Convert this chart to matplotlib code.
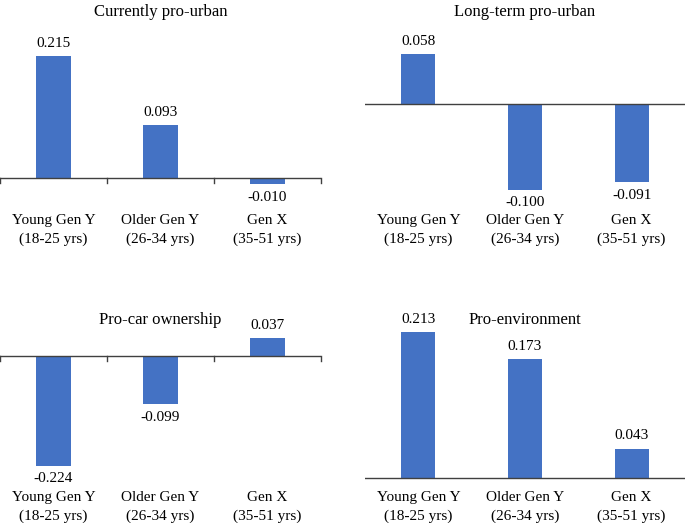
import matplotlib
matplotlib.use("Agg")
import matplotlib.pyplot as plt
from matplotlib.transforms import blended_transform_factory

plt.rcParams['font.family'] = ['Liberation Serif', 'DejaVu Serif']

categories = ["Young Gen Y\n(18-25 yrs)", "Older Gen Y\n(26-34 yrs)", "Gen X\n(35-51 yrs)"]
titles = ["Currently pro-urban", "Long-term pro-urban", "Pro-car ownership", "Pro-environment"]
currently_pro_urban = [0.215, 0.093, -0.010]
long_term_pro_urban = [0.058, -0.100, -0.091]
pro_car_ownership = [-0.224, -0.099, 0.037]
pro_environment = [0.213, 0.173, 0.043]
series = [currently_pro_urban, long_term_pro_urban, pro_car_ownership, pro_environment]

W, H = 685, 523
fig = plt.figure(figsize=(W / 100, H / 100), dpi=100)

# panel layout in pixels: x0, x1, zero line y, px per unit, band top, band bottom, title y, label y, ticks
panels = [
    (0, 321, 178, 567, 30, 260, 12, 230, True),
    (365, 685, 104, 855, 30, 260, 12, 230, False),
    (0, 321, 356, 489, 330, 523, 320, 507, True),
    (365, 685, 478, 685, 330, 523, 320, 507, False),
]

bar_color = "#4472C4"
axis_color = "#404040"

for (x0, x1, zy, sc, top, bot, ty, ly, ticks), title, vals in zip(panels, titles, series):
    ax = fig.add_axes([x0 / W, 1 - bot / H, (x1 - x0) / W, (bot - top) / H])
    ax.set_xlim(-0.5, 2.5)
    ax.set_ylim(-(bot - zy) / sc, (zy - top) / sc)
    ax.axis('off')
    xs = list(range(len(vals)))
    ax.bar(xs, vals, width=0.32, color=bar_color, zorder=2)
    ax.axhline(0, color=axis_color, lw=1.0, zorder=3)
    if ticks:
        for b in [-0.5, 0.5, 1.5, 2.5]:
            ax.plot([b, b], [0, -5 / sc], color=axis_color, lw=1.0, clip_on=False, zorder=3)
    for x, v in zip(xs, vals):
        if v >= 0:
            ax.annotate(f"{v:.3f}", (x, v), xytext=(0, 4.5), textcoords='offset points',
                        ha='center', va='bottom', fontsize=11)
        else:
            ax.annotate(f"{v:.3f}", (x, v), xytext=(0, -5), textcoords='offset points',
                        ha='center', va='top', fontsize=11)
    tr = blended_transform_factory(ax.transData, fig.transFigure)
    for x, c in zip(xs, categories):
        ax.text(x, 1 - ly / H, c, transform=tr, ha='center', va='center',
                fontsize=11, linespacing=1.5)
    fig.text((x0 + x1) / 2 / W, 1 - ty / H, title, ha='center', va='center', fontsize=12)

fig.savefig("out.png", dpi=100)
